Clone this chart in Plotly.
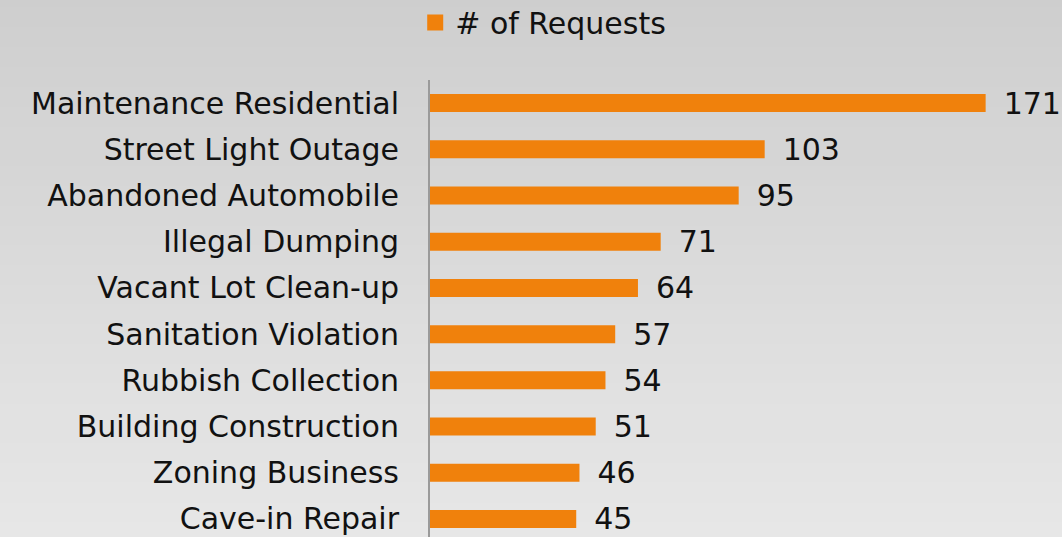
import plotly.graph_objects as go

categories = ["Maintenance Residential", "Street Light Outage", "Abandoned Automobile",
              "Illegal Dumping", "Vacant Lot Clean-up", "Sanitation Violation",
              "Rubbish Collection", "Building Construction", "Zoning Business", "Cave-in Repair"]
requests = [171, 103, 95, 71, 64, 57, 54, 51, 46, 45]
series_name = "# of Requests"

FONT = "DejaVu Sans, Verdana, sans-serif"
ORANGE = "#F0810C"
FS = 30

fig = go.Figure()
fig.add_trace(go.Bar(
    y=categories, x=requests, orientation="h", name=series_name,
    marker=dict(color=ORANGE, line=dict(width=0)),
    text=requests, texttemplate="\u2002%{x}", textposition="outside",
    textfont=dict(size=FS, color="#111111", family=FONT),
    constraintext="none", cliponaxis=False, showlegend=False,
))
# legend entry with a larger square swatch
fig.add_trace(go.Scatter(
    x=[None], y=[None], mode="markers", name=series_name,
    marker=dict(symbol="square", size=16, color=ORANGE), showlegend=True,
))

# vertical background gradient (decoration)
n = 30
top = (0xce, 0xce, 0xce)
bot = (0xe9, 0xe9, 0xe9)
shapes = []
for i in range(n):
    t = i / (n - 1)
    c = tuple(round(top[k] + (bot[k] - top[k]) * t) for k in range(3))
    shapes.append(dict(type="rect", xref="paper", yref="paper",
                       x0=-1, x1=2, y0=1.2 - (i + 1) * 1.3 / n, y1=1.2 - i * 1.3 / n + 0.002,
                       fillcolor="rgb(%d,%d,%d)" % c, line=dict(width=0), layer="below"))

fig.update_layout(
    width=1062, height=537,
    margin=dict(l=430, r=0, t=80, b=0),
    paper_bgcolor="#dcdcdc", plot_bgcolor="rgba(0,0,0,0)",
    font=dict(family=FONT, size=FS, color="#111111"),
    bargap=0.61,
    shapes=shapes,
    showlegend=True,
    legend=dict(orientation="h", xref="container", yref="container",
                x=0.5115, xanchor="center", y=0.958, yanchor="middle",
                font=dict(size=FS, family=FONT, color="#111111"),
                itemwidth=30, bgcolor="rgba(0,0,0,0)"),
    xaxis=dict(range=[0, 194.5], showgrid=False, zeroline=False, showticklabels=False,
               showline=False, ticks=""),
    yaxis=dict(type="category", categoryorder="array", categoryarray=categories,
               range=[9.39, -0.5], showgrid=False, zeroline=False,
               showline=True, linecolor="#9a9a9a", linewidth=2,
               ticks="", ticklabelstandoff=23,
               tickfont=dict(size=FS, family=FONT, color="#111111")),
)

fig.write_html("out.html", config={"displayModeBar": False},
               post_script="document.body.style.margin='0';document.body.style.overflow='hidden';")
